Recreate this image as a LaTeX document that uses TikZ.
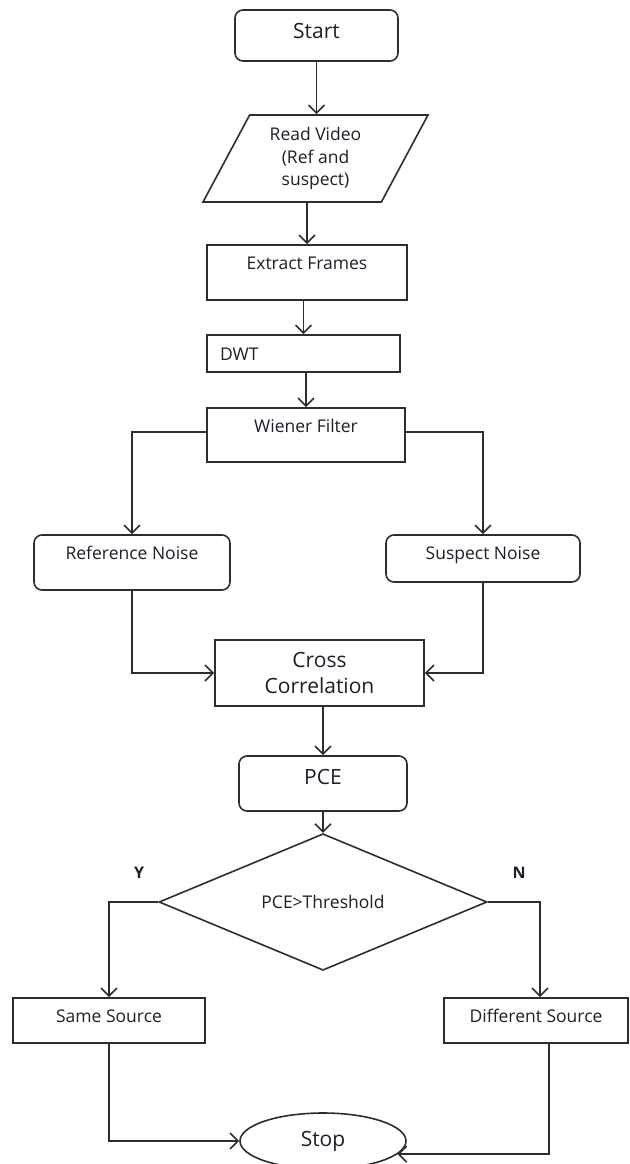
\documentclass[tikz,border=0pt]{standalone}
\usepackage{fontspec}
\setmainfont{Open Sans}
\usetikzlibrary{shapes.geometric, arrows.meta, positioning, calc}
\definecolor{linegray}{RGB}{45, 45, 45}
\definecolor{textdark}{RGB}{30, 30, 40}

\begin{document}
\begin{tikzpicture}[x=1pt, y=-1pt,
  outline/.style={draw=linegray, line width=1.6pt, text=textdark, font=\fontsize{17.5}{21}\selectfont},
  proc/.style={outline, inner xsep=4pt, inner ysep=0pt, text height=24pt},
  term/.style={proc, rounded corners=8pt},
  bigtext/.style={font=\fontsize{21}{26}\selectfont},
  io/.style={outline, trapezium, trapezium left angle=62.6, trapezium right angle=117.4,
    trapezium stretches=true, align=center, inner sep=0pt, font=\fontsize{17.5}{22.5}\selectfont},
  decision/.style={outline, diamond, inner sep=0pt},
  lab/.style={text=textdark, font=\fontsize{16}{19}\selectfont\bfseries},
  flow/.style={-{Straight Barb[length=8pt, width=16pt]}, line width=1.6pt, draw=linegray},
  line/.style={line width=1.6pt, draw=linegray}
]
  \useasboundingbox (0, 0) rectangle (629, 1164);

  % Top of the chain
  \node[term, bigtext, text height=28pt, text depth=23pt, minimum width=163pt] (start) at (316.5, 35.5) {Start};
  \node[io, minimum width=225pt, minimum height=87pt] (read) at (315.5, 158.5) {Read Video\\(Ref and\\suspect)};
  \node[proc, text depth=31pt, minimum width=200pt] (extract) at (307, 272.5) {Extract Frames};
  \node[proc, text height=25pt, text depth=12pt, minimum width=193pt, inner xsep=13pt, text width=167pt, align=left] (dwt) at (303.5, 353.5) {DWT};
  \node[proc, text depth=30pt, minimum width=198pt] (wiener) at (306, 435) {Wiener Filter};

  \draw[flow] (start) -- (start |- read.north);
  \draw[flow] (read.south -| extract.north) -- (extract.north);
  \draw[flow] (dwt.north |- extract.south) -- (dwt.north);
  \draw[flow] (dwt.south -| wiener.north) -- (wiener.north);

  % Noise branches
  \node[term, text depth=31pt, minimum width=196pt] (refnoise) at (132, 562.5) {Reference Noise};
  \node[term, text depth=23pt, minimum width=194pt] (suspnoise) at (483, 558.5) {Suspect Noise};

  \draw[flow] ([yshift=-25pt]wiener.north west) -| (refnoise.north);
  \draw[flow] ([yshift=-25pt]wiener.north east) -| (suspnoise.north);

  % Correlation
  \node[outline, bigtext, minimum width=209pt, minimum height=66pt, align=center] (cross) at (319.5, 673) {Cross\\Correlation};
  \node[term, bigtext, text height=28pt, text depth=27pt, minimum width=168pt] (pce) at (323, 783.5) {PCE};

  \draw[flow] (refnoise.south) |- (cross.west);
  \draw[flow] (suspnoise.south) |- (cross.east);
  \draw[flow] (pce.north |- cross.south) -- (pce.north);

  % Decision
  \node[decision, minimum width=328pt, minimum height=82pt] (test) at (323, 902) {PCE>Threshold};
  \node[lab] (yes) at (139, 873) {Y};
  \node[lab] (no) at (519, 873) {N};

  \draw[flow] (pce.south) -- (test.north);

  \node[proc, text depth=21pt, minimum width=192pt] (same) at (109, 1020.5) {Same Source};
  \node[proc, text depth=21pt, minimum width=184pt] (diff) at (536, 1020.5) {Different Source};

  \draw[flow] (test.west) -| (same.north);
  \draw[flow] (test.east) -| ([xshift=4pt]diff.north);

  % End
  \node[outline, ellipse, bigtext, inner sep=0pt, minimum width=166pt, minimum height=56pt] (stop) at (323, 1141) {Stop};

  \draw[flow] (same.south) |- (stop.west);
  \draw[flow] ([xshift=13pt]diff.south) |- (stop.-10);
\end{tikzpicture}
\end{document}
